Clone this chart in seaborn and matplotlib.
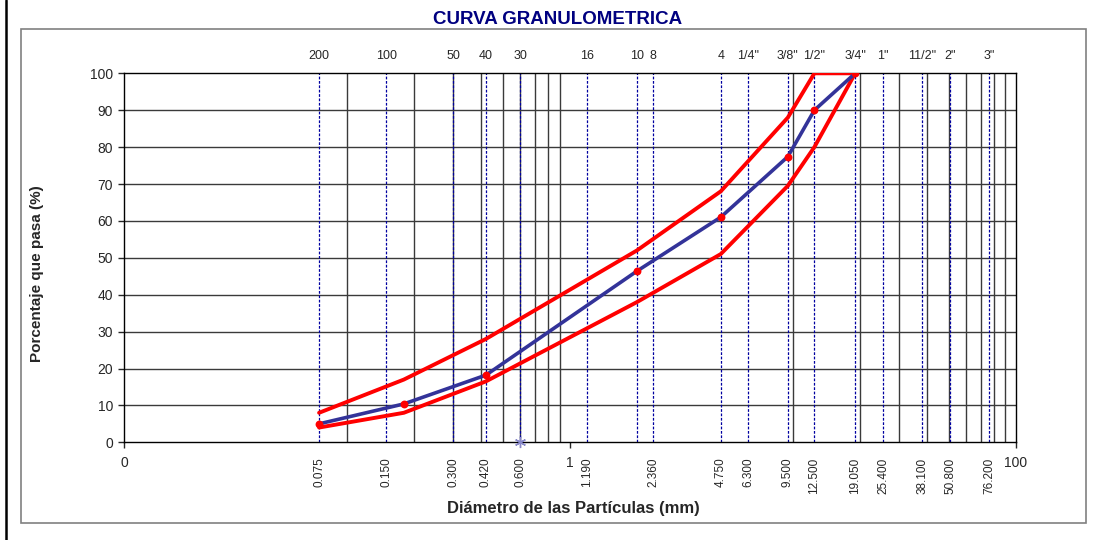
import matplotlib
matplotlib.use("Agg")
import matplotlib.pyplot as plt
from matplotlib.patches import Rectangle
from matplotlib.lines import Line2D
from matplotlib.ticker import NullLocator
import seaborn as sns
import pandas as pd

# Sieve openings (mm) and their designations
sieve_mm = [0.075, 0.150, 0.300, 0.420, 0.600, 1.190, 2.000, 2.360, 4.750,
            6.300, 9.500, 12.500, 19.050, 25.400, 38.100, 50.800, 76.200]
sieve_names = ["200", "100", "50", "40", "30", "16", "10", "8", "4",
               '1/4"', '3/8"', '1/2"', '3/4"', '1"', '11/2"', '2"', '3"']
opening_mm = [0.075, 0.150, 0.300, 0.420, 0.600, 1.190, 2.360, 4.750, 6.300,
              9.500, 12.500, 19.050, 25.400, 38.100, 50.800, 76.200]
opening_labels = ["0.075", "0.150", "0.300", "0.420", "0.600", "1.190",
                  "2.360", "4.750", "6.300", "9.500", "12.500", "19.050",
                  "25.400", "38.100", "50.800", "76.200"]

# Gradation of the sample and specification band
grad_mm = [0.075, 0.180, 0.420, 2.000, 4.750, 9.500, 12.500, 19.050]
passing = [5.0, 10.4, 18.2, 46.4, 61.0, 77.4, 90.0, 100.0]
upper_limit = [8.0, 17.0, 28.0, 52.0, 68.0, 88.0, 100.0, 100.0]
lower_limit = [4.0, 8.0, 16.5, 38.0, 51.0, 69.5, 80.0, 100.0]

# Auxiliary log gridlines
grid_x = [0.1, 0.2, 0.3, 0.4, 0.5, 0.6, 0.7, 0.8, 0.9,
          10, 20, 30, 40, 50, 60, 70, 80, 90]
grid_y = [10, 20, 30, 40, 50, 60, 70, 80, 90]
major_x = [0.01, 1, 100]
major_x_labels = ["0", "1", "100"]

sns.set_style("white")
plt.rcParams["font.family"] = ["Liberation Sans", "DejaVu Sans"]

W, H = 1108, 540
fig = plt.figure(figsize=(W / 100, H / 100), dpi=100)
fig.patch.set_facecolor("white")

# left border line and inner chart frame
fig.add_artist(Line2D([5.5 / W, 5.5 / W], [0, 1], transform=fig.transFigure,
                      color="black", lw=1.8))
fig.patches.append(Rectangle((21 / W, 1 - 523 / H), (1086 - 21) / W, (523 - 29) / H,
                             transform=fig.transFigure, fill=False,
                             edgecolor="#808080", lw=1.2))

L, R, T, B = 124, 1015.7, 73.3, 442.3
ax = fig.add_axes([L / W, 1 - B / H, (R - L) / W, (B - T) / H])
ax.set_xscale("log")
ax.set_xlim(0.01, 100)
ax.set_ylim(0, 100)

for gy in grid_y:
    ax.axhline(gy, color="#3a3a3a", lw=1.0, zorder=1)
for gx in grid_x:
    ax.axvline(gx, color="#3a3a3a", lw=1.0, zorder=1)
for sx in sieve_mm:
    ax.axvline(sx, color="#0000a0", lw=0.9, ls=(0, (2.2, 1.3)), zorder=2)

band = pd.DataFrame({"d": grad_mm, "up": upper_limit, "lo": lower_limit,
                     "p": passing})
sns.lineplot(data=band, x="d", y="up", ax=ax, color="#ff0000", lw=2.8,
             sort=False, estimator=None, zorder=3)
sns.lineplot(data=band, x="d", y="lo", ax=ax, color="#ff0000", lw=2.8,
             sort=False, estimator=None, zorder=3)
sns.lineplot(data=band, x="d", y="p", ax=ax, color="#333399", lw=2.6,
             sort=False, estimator=None, zorder=4)
sns.scatterplot(data=band, x="d", y="p", ax=ax, color="#ff0000", s=32,
                edgecolor="#ff0000", linewidth=0, zorder=5)
ax.plot([0.6], [0], marker=(6, 2, 0), ms=8, mew=1.0, color="#8888c8",
        ls="none", zorder=6, clip_on=False)

for sp in ax.spines.values():
    sp.set_color("black")
    sp.set_linewidth(1.0)

ax.set_yticks(range(0, 101, 10))
ax.tick_params(axis="y", direction="out", length=4, width=1, pad=4,
               labelsize=10, left=True)
ax.set_xticks(major_x)
ax.set_xticklabels(major_x_labels)
ax.xaxis.set_minor_locator(NullLocator())
ax.tick_params(axis="x", direction="out", length=4, width=1, pad=6,
               labelsize=10, bottom=True)
ax.set_xlabel("")
ax.set_ylabel("")

top = ax.secondary_xaxis("top")
top.set_xticks(sieve_mm)
top.set_xticklabels(sieve_names)
top.xaxis.set_minor_locator(NullLocator())
top.tick_params(axis="x", length=0, pad=8, labelsize=9)
top.spines["top"].set_visible(False)

bot = ax.secondary_xaxis("bottom")
bot.set_xticks(opening_mm)
bot.set_xticklabels(opening_labels, rotation=90)
bot.xaxis.set_minor_locator(NullLocator())
bot.tick_params(axis="x", length=0, pad=11, labelsize=8.5)
bot.spines["bottom"].set_visible(False)

fig.text(557.5 / W, 1 - 19 / H, "CURVA GRANULOMETRICA", ha="center",
         va="center", fontsize=13.5, fontweight="bold", color="#000080")
fig.text(573.5 / W, 1 - 509 / H, "Diámetro de las Partículas (mm)",
         ha="center", va="center", fontsize=12, fontweight="bold")
fig.text(37 / W, 1 - 274 / H, "Porcentaje que pasa (%)", ha="center",
         va="center", rotation=90, fontsize=11, fontweight="bold")

fig.savefig("out.png", dpi=100)
